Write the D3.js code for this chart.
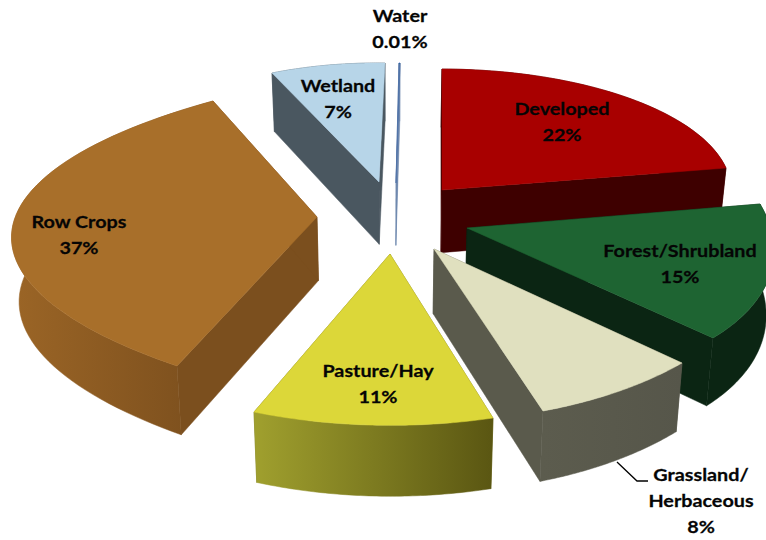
<!DOCTYPE html>
<html>
<head>
<meta charset="utf-8">
<script src="https://cdn.jsdelivr.net/npm/d3@7/dist/d3.min.js"></script>
<style>
html,body{margin:0;padding:0;background:#fff;overflow:hidden}
text{font-family:Lato,"Open Sans",sans-serif;font-weight:700;font-size:17.5px;fill:#050505;stroke:#050505;stroke-width:0.25px;text-anchor:middle}
</style>
</head>
<body>
<svg id="c" width="766" height="540" viewBox="0 0 766 540"></svg>
<script>
// ---- data, clockwise from 12 o'clock ----
const categories = ["Developed","Forest/Shrubland","Grassland/Herbaceous","Pasture/Hay","Row Crops","Wetland","Water"];
const values     = [22,15,8,11,37,7,0.01];
const labelLines = [["Developed","22%"],["Forest/Shrubland","15%"],["Grassland/","Herbaceous","8%"],["Pasture/Hay","11%"],["Row Crops","37%"],["Wetland","7%"],["Water","0.01%"]];

// ---- styles ----
const topColors  = ["#A80000","#1E6432","#E0E0BF","#DCD739","#A86F2A","#B7D5E8","#4F72A8"];
const wallColors = ["#3E0000","#0B2513","#5A5A4C","#6F6C1C","#7B4F1E","#4A5760","#6F88AE"];
const outerRamp  = [["#3E0000","#3E0000"],["#0B2513","#0B2513"],["#5C5C4E","#56564A"],["#A0A02E","#5A5612"],["#9B6526","#7A4E1D"],["#4A5760","#4A5760"],["#6F88AE","#6F88AE"]];

// ---- layout: the picture is an exploded 3-D pie, so every wedge has its own projected frame
// (hub, the rim where the wedge starts, the rim where it ends; the widest wedge also needs
//  the pole and weight of its conic arc, because perspective distorts it most)
const frames = [
  {hub:[442,190],from:[442,69], to:[726,168]},
  {hub:[467,228],from:[760,204],to:[713,338]},
  {hub:[434,249],from:[682,363],to:[543,411]},
  {hub:[390,254],from:[493,418],to:[254,412]},
  {hub:[317,217],from:[177,366],to:[213,101],pole:[-239,225],weight:0.729},
  {hub:[379,182],from:[272,73], to:[385,63]},
  {hub:[396,183],from:[399,63], to:[400,63]}
];
const labelAnchors = [[562,115],[680,257],[701,481],[378,377],[79,228],[338,92],[400,22]];
const lineGap = 26;
const textStretch = 1.13;
const paintOrder = [5,6,0,1,4,2,3];

// the thickness of the pie is a slight scaling about a point, as verticals converge downward
const depth = ([x,y]) => [x*0.98+7.8, y*1.035+56];

const svg = d3.select("#c");
const defs = svg.append("defs");
const pie = d3.pie().sort(null).startAngle(0).endAngle(2*Math.PI);
const arcs = pie(values);
const line = d3.line();

// Map an angle inside the wedge to its place on the projected rim
function projector(frame, a0, a1){
  const [hx,hy]=frame.hub;
  if(frame.pole){
    const {from:P,to:Q,pole:C,weight:w}=frame;
    return a=>{
      const t=(a-a0)/(a1-a0), b0=(1-t)*(1-t), b1=2*w*t*(1-t), b2=t*t, s=b0+b1+b2;
      return [0,1].map(i=>(b0*P[i]+b1*C[i]+b2*Q[i])/s);
    };
  }
  const p0=[frame.from[0]-hx,frame.from[1]-hy], p1=[frame.to[0]-hx,frame.to[1]-hy];
  const span=Math.sin(a1-a0);
  return a=>{
    const al=Math.sin(a1-a)/span, be=Math.sin(a-a0)/span;
    return [hx+al*p0[0]+be*p1[0], hy+al*p0[1]+be*p1[1]];
  };
}

paintOrder.forEach(i=>{
  const d=arcs[i], frame=frames[i];
  const proj=projector(frame,d.startAngle,d.endAngle);
  const angle=d3.scaleLinear().domain([0,60]).range([d.startAngle,d.endAngle]);
  const rim=d3.range(61).map(k=>proj(angle(k)));
  const hub=frame.hub;
  const g=svg.append("g").attr("class","slice").attr("data-name",categories[i]);

  // radial faces
  [rim[0],rim[60]].forEach(p=>{
    g.append("path").attr("d",line([hub,p,depth(p),depth(hub)])+"Z")
      .attr("fill",wallColors[i]).attr("stroke",wallColors[i]).attr("stroke-width",0.5);
  });
  // curved face
  const xs=d3.extent(rim,p=>p[0]);
  const grad=defs.append("linearGradient").attr("id","outer"+i)
    .attr("gradientUnits","userSpaceOnUse")
    .attr("x1",xs[0]).attr("x2",xs[1]).attr("y1",0).attr("y2",0);
  grad.append("stop").attr("offset","0").attr("stop-color",outerRamp[i][0]);
  grad.append("stop").attr("offset","1").attr("stop-color",outerRamp[i][1]);
  g.append("path").attr("d",line(rim.concat(rim.map(depth).reverse()))+"Z")
    .attr("fill",`url(#outer${i})`).attr("stroke",`url(#outer${i})`).attr("stroke-width",0.5);
  // top face
  g.append("path").attr("d",line([hub].concat(rim))+"Z")
    .attr("fill",topColors[i]).attr("stroke",topColors[i]).attr("stroke-width",i===6?0.8:0.5);
});

// leader line for Grassland
svg.append("path").attr("d",line([[617,462],[637,481],[648,481]]))
  .attr("fill","none").attr("stroke","#000").attr("stroke-width",1.3);

// labels
labelLines.forEach((lines,i)=>{
  const t=svg.append("text")
    .attr("transform",`translate(${labelAnchors[i][0]},${labelAnchors[i][1]}) scale(${textStretch},1)`);
  lines.forEach((s,k)=>{
    t.append("tspan").attr("x",0).attr("dy",k?lineGap:0).text(s);
  });
});
</script>
</body>
</html>
